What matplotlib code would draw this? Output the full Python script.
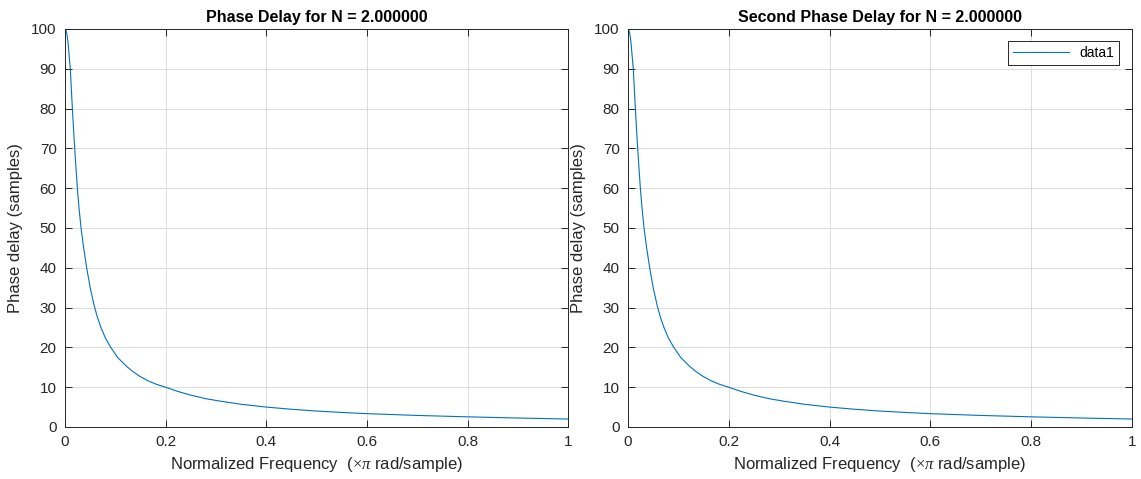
import numpy as np
import matplotlib
matplotlib.use("Agg")
import matplotlib.pyplot as plt

plt.rcParams['font.family'] = ['Liberation Sans', 'DejaVu Sans']
plt.rcParams['mathtext.fontset'] = 'custom'
plt.rcParams['mathtext.rm'] = 'Liberation Serif'
plt.rcParams['mathtext.it'] = 'Liberation Serif:italic'

# values
freq = [0.0, 0.002, 0.004, 0.006, 0.008, 0.0105, 0.0125, 0.0146, 0.0168, 0.0192,
        0.0218, 0.0245, 0.0278, 0.0318, 0.037, 0.043, 0.05, 0.0577, 0.064, 0.071,
        0.08, 0.0908, 0.105, 0.1226, 0.135, 0.149, 0.165, 0.18, 0.1995, 0.225,
        0.25, 0.28, 0.308, 0.35, 0.4, 0.45, 0.5, 0.55, 0.6, 0.7,
        0.8, 0.9, 1.0]
delay = [100.0, 99.6, 98.5, 96.5, 93.5, 90.0, 85.0, 80.0, 75.0, 70.0,
         65.0, 60.0, 55.0, 50.0, 45.0, 40.0, 35.0, 30.6, 27.7, 25.1,
         22.4, 20.0, 17.4, 15.2, 13.9, 12.7, 11.6, 10.8, 10.0, 8.9,
         8.0, 7.1, 6.5, 5.7, 5.0, 4.45, 4.0, 3.65, 3.35, 2.9,
         2.55, 2.25, 2.0]

titles = ["Phase Delay for N = 2.000000", "Second Phase Delay for N = 2.000000"]
xticks = [0, 0.2, 0.4, 0.6, 0.8, 1]
xticklabels = ["0", "0.2", "0.4", "0.6", "0.8", "1"]
yticks = list(range(0, 101, 10))

dark = '#262626'
fig = plt.figure(figsize=(11.41, 4.79), dpi=100)
positions = [[0.057, 0.1086, 0.441, 0.8309], [0.5504, 0.1086, 0.4417, 0.8309]]

for i, pos in enumerate(positions):
    ax = fig.add_axes(pos)
    ax.plot(freq, delay, color='#0072BD', lw=0.8, label='data1')
    ax.set_xlim(0, 1)
    ax.set_ylim(0, 100)
    ax.set_xticks(xticks)
    ax.set_xticklabels(xticklabels)
    ax.set_yticks(yticks)
    ax.grid(True, color='#dcdcdc', lw=0.7)
    ax.set_axisbelow(True)
    ax.tick_params(direction='in', top=True, right=True, colors=dark,
                   labelsize=11, length=5, width=0.7, pad=6)
    for s in ax.spines.values():
        s.set_color(dark)
        s.set_linewidth(0.7)
    ax.set_title(titles[i], fontsize=11.5, fontweight='bold', color='black', pad=5)
    ax.set_xlabel(r'Normalized Frequency  ($\times\pi$ rad/sample)', fontsize=12, color=dark, labelpad=4)
    ax.set_ylabel('Phase delay (samples)', fontsize=12, color=dark, labelpad=6)
    if i == 1:
        leg = ax.legend(loc='upper right', fontsize=10, fancybox=False,
                        framealpha=1, edgecolor=dark, handlelength=4,
                        borderaxespad=0.9, borderpad=0.35)
        leg.get_frame().set_linewidth(0.7)

fig.savefig('out.png', dpi=100)
